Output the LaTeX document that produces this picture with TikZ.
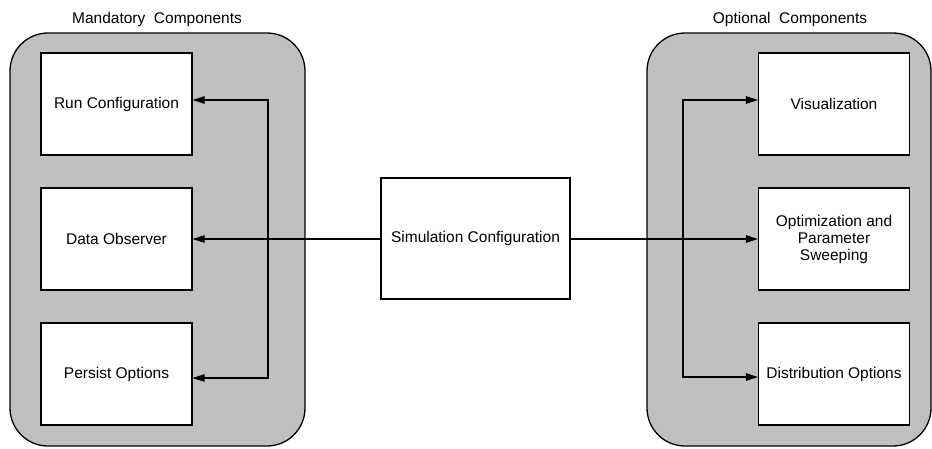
\documentclass[tikz,border=0pt]{standalone}
\usepackage{fontspec}
\setmainfont{Liberation Sans}
\usetikzlibrary{arrows.meta}
\begin{document}
\begin{tikzpicture}[x=1pt,y=-1pt,
  every node/.style={font=\fontsize{15.5}{17}\selectfont, inner sep=0pt},
  group/.style={draw=black, line width=1.3pt, fill=black!25, rounded corners=38pt},
  comp/.style={draw=black, line width=1.2pt, fill=white, minimum width=151pt, minimum height=102pt, align=center},
  arr/.style={line width=1.1pt, -{Triangle[length=12pt,width=7.5pt]}},
  ln/.style={line width=1.1pt}]
\useasboundingbox (0,0) rectangle (932,448);
% groups
\draw[group] (10,33) rectangle (305,446);
\draw[group] (647,33) rectangle (931,446);
\node (mtitle) at (157,19) {Mandatory\ \ Components};
\node (otitle) at (790,19) {Optional\ \ Components};
% left components
\node[comp] (run) at (116.5,104) {Run Configuration};
\node[comp] (obs) at (116.5,239) {Data Observer};
\node[comp] (per) at (116.5,374) {Persist Options};
% right components
\node[comp] (vis) at (834,104) {Visualization};
\node[comp] (opt) at (834,239) {Optimization and\\Parameter\\Sweeping};
\node[comp] (dis) at (834,374) {Distribution Options};
% center
\node[comp, minimum width=189pt, minimum height=121pt] (sim) at (475.5,238.5) {Simulation Configuration};
% connector coordinates
\coordinate (lt) at (268,100);
\coordinate (lb) at (268,378);
\coordinate (rt) at (683,100);
\coordinate (rb) at (683,377);
% connectors
\draw[arr] (sim.west |- obs) -- (obs.east);
\draw[arr] (sim.east |- opt) -- (opt.west);
\draw[arr] (lb) -- (lt) -- (run.east |- lt);
\draw[arr] (lt) -- (lb) -- (per.east |- lb);
\draw[arr] (rb) -- (rt) -- (vis.west |- rt);
\draw[arr] (rt) -- (rb) -- (dis.west |- rb);
\end{tikzpicture}
\end{document}
